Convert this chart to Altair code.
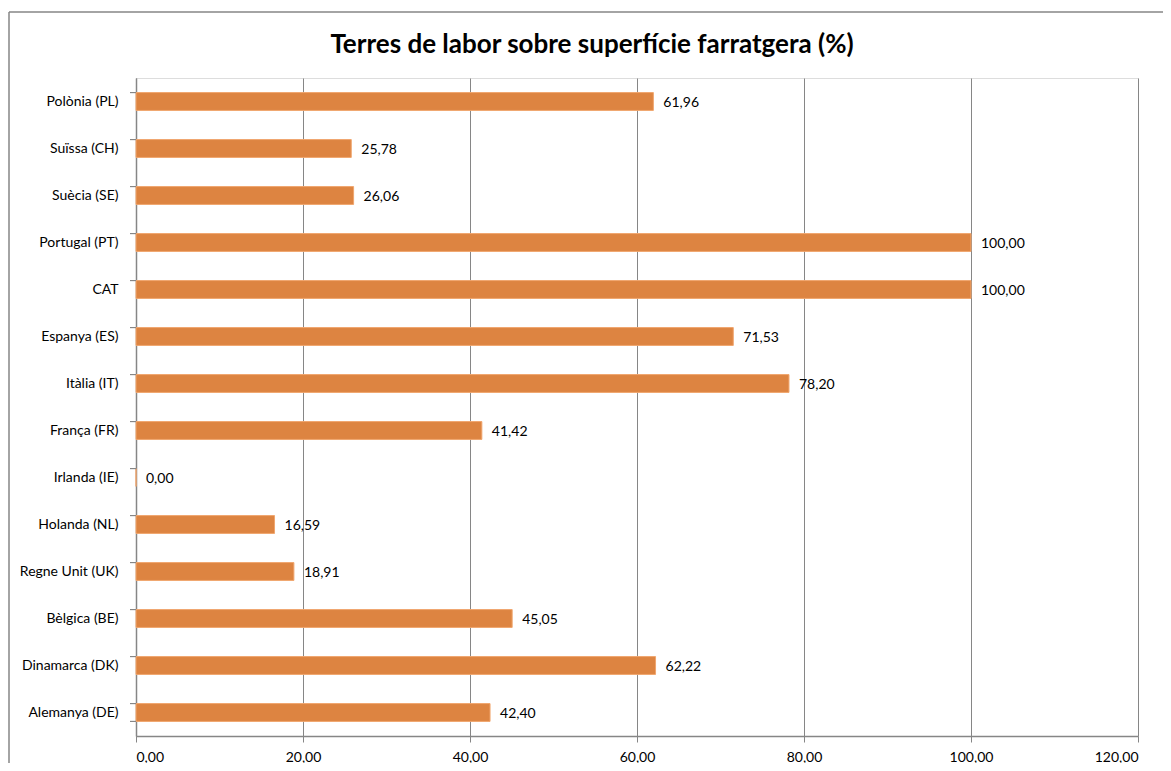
import altair as alt
import pandas as pd

countries = ["Polònia (PL)", "Suïssa (CH)", "Suècia (SE)", "Portugal (PT)", "CAT",
             "Espanya (ES)", "Itàlia (IT)", "França (FR)", "Irlanda (IE)", "Holanda (NL)",
             "Regne Unit (UK)", "Bèlgica (BE)", "Dinamarca (DK)", "Alemanya (DE)"]
values = [61.96, 25.78, 26.06, 100.00, 100.00, 71.53, 78.20, 41.42, 0.00, 16.59,
          18.91, 45.05, 62.22, 42.40]
x_ticks = [0, 20, 40, 60, 80, 100, 120]

df = pd.DataFrame({"country": countries, "value": values})

FONT = "Lato"
GRAY = "#868686"
W, H = 1002, 658

yscale = alt.Scale(domain=countries, paddingInner=0.62, paddingOuter=0.31)
xscale = alt.Scale(domain=[0, 120], nice=False, zero=True)

base = alt.Chart(df)

bars = base.mark_bar(color="#DD8441", stroke="#F0A66E", strokeWidth=1).encode(
    y=alt.Y("country:N", sort=countries, scale=yscale,
            axis=alt.Axis(title=None, ticks=False, labelPadding=18, labelFontSize=14,
                          labelFont=FONT, labelColor="#000000", domainColor=GRAY,
                          domainWidth=1.5, grid=False)),
    x=alt.X("value:Q", scale=xscale,
            axis=alt.Axis(title=None, values=x_ticks, grid=True, gridColor=GRAY,
                          gridWidth=1, domainColor=GRAY, domainWidth=1.5, tickColor=GRAY,
                          tickSize=6, labelPadding=8, labelFontSize=14, labelFont=FONT,
                          labelColor="#000000",
                          labelExpr="replace(format(datum.value, '.2f'), '.', ',')")),
)

labels = base.transform_calculate(
    label="replace(format(datum.value, '.2f'), '.', ',')"
).mark_text(align="left", baseline="middle", dx=10, dy=1, fontSize=14, font=FONT,
            color="#000000").encode(
    y=alt.Y("country:N", sort=countries, scale=yscale),
    x=alt.X("value:Q", scale=xscale),
    text="label:N",
)

ticks = base.mark_rule(color=GRAY, strokeWidth=1.2).encode(
    y=alt.Y("country:N", sort=countries, scale=yscale, bandPosition=0),
    x=alt.value(-6),
    x2=alt.value(0),
)

last_tick = base.transform_filter(
    alt.datum.country == countries[-1]
).mark_rule(color=GRAY, strokeWidth=1.2).encode(
    y=alt.Y("country:N", sort=countries, scale=yscale, bandPosition=1),
    x=alt.value(-6),
    x2=alt.value(0),
)

frame_df = pd.DataFrame({"a": [0]})
border_top = alt.Chart(frame_df).mark_rule(color=GRAY, strokeWidth=1.5).encode(
    x=alt.value(-127), x2=alt.value(1100), y=alt.value(-66)
)
border_left = alt.Chart(frame_df).mark_rule(color=GRAY, strokeWidth=1.5).encode(
    x=alt.value(-127), y=alt.value(-66), y2=alt.value(720)
)

chart = alt.layer(border_top, border_left, bars, labels, ticks, last_tick).properties(
    width=W, height=H,
    padding={"left": 128, "top": 70, "right": 25, "bottom": 27},
    autosize=alt.AutoSizeParams(type="none"),
    title=alt.TitleParams("Terres de labor sobre superfície farratgera (%)",
                          fontSize=26, font=FONT, fontWeight="bold", color="#000000",
                          anchor="middle", frame="group", dx=-45, dy=47, offset=0),
).configure_view(stroke="transparent", strokeWidth=0).configure(background="white")

chart.save("out.html", embed_options={"renderer": "svg", "actions": False})
